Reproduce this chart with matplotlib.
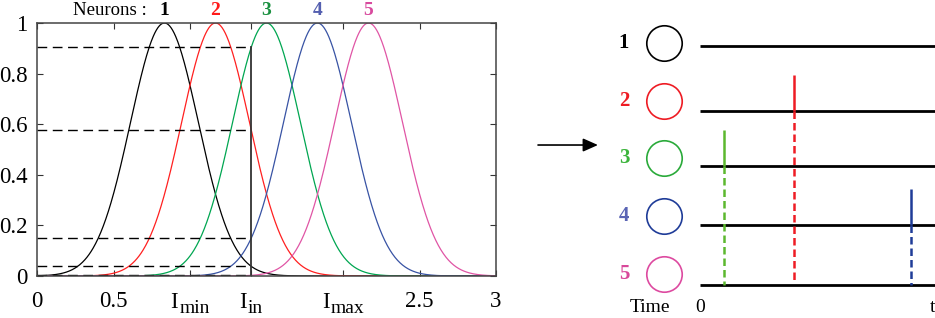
import matplotlib
matplotlib.use('Agg')
import matplotlib.pyplot as plt
import numpy as np
from matplotlib.transforms import blended_transform_factory

plt.rcParams['font.family'] = ['Liberation Serif', 'DejaVu Serif']

# ---------------- data ----------------
neuron_ids = ['1', '2', '3', '4', '5']
centers = [0.833, 1.167, 1.5, 1.833, 2.167]      # receptive field centres
sigma = 0.222                                     # receptive field width
I_in = 1.4                                        # input value
levels = [0.039, 0.576, 0.905, 0.149, 0.003]      # activation of each neuron at I_in
xticks = [0, 0.5, 1.0, 1.4, 2.0, 2.5, 3.0]
xticklabels = ['0', '0.5', '', '', '', '2.5', '3']
sub_ticks = [(1.0, 'I', 'min'), (1.4, 'I', 'in'), (2.0, 'I', 'max')]
yticks = [0, 0.2, 0.4, 0.6, 0.8, 1.0]
yticklabels = ['0', '0.2', '0.4', '0.6', '0.8', '1']
spike_neuron = [3, 2, 4]
spike_time = [0.103, 0.402, 0.902]

curve_colors = ['#000000', '#ff2020', '#00a651', '#3853a4', '#e055a5']
label_colors = ['#000000', '#ff1a1a', '#1a9040', '#5560b0', '#d84a9e']
right_label_colors = ['#000000', '#ee1c24', '#3cb43c', '#5a64b4', '#d8489a']
circle_colors = ['#000000', '#ee1c24', '#2aaa3a', '#1f3c98', '#dd4aa0']
spike_colors = {3: '#5cb82e', 2: '#ee1c24', 4: '#1f3c98'}

W, H = 935, 318
fig = plt.figure(figsize=(W / 100, H / 100), dpi=100)

# ---------------- left panel ----------------
ax = fig.add_axes([37 / W, 42 / H, 459 / W, 253 / H])
x = np.linspace(0, 3, 901)
for c, col in zip(centers, curve_colors):
    ax.plot(x, np.exp(-(x - c) ** 2 / (2 * sigma ** 2)), color=col, lw=0.9)

for v in levels:
    ax.plot([0, I_in], [v, v], color='k', lw=1.0, dashes=(7, 4))
ax.plot([I_in, I_in], [0, max(levels)], color='#333333', lw=1.3)

ax.set_xlim(0, 3)
ax.set_ylim(0, 1)
ax.set_xticks(xticks)
ax.set_xticklabels(xticklabels)
ax.set_yticks(yticks)
ax.set_yticklabels(yticklabels)
ax.tick_params(axis='both', direction='in', length=4.5, width=0.8, color='#333333',
               top=True, right=True, labelsize=16.5)
ax.tick_params(axis='x', pad=11)
ax.tick_params(axis='y', pad=7)
for s in ax.spines.values():
    s.set_color('#444444')
    s.set_linewidth(1.1)

trans = blended_transform_factory(ax.transData, ax.transAxes)
ax.text(0.72, 1.05, 'Neurons :', transform=trans, ha='right', va='center',
        fontsize=13.5)
for c, lab, col in zip(centers, neuron_ids, label_colors):
    ax.text(c, 1.05, lab, transform=trans, ha='center', va='center',
            fontsize=14, fontweight='bold', color=col)

# subscripted tick labels
renderer = fig.canvas.get_renderer()
main_dy, sub_dy = -16, -24
for xv, main, sub in sub_ticks:
    t1 = ax.annotate(main, xy=(xv, 0), xycoords=trans, xytext=(0, main_dy),
                     textcoords='offset pixels', ha='left', va='top', fontsize=16.5)
    t2 = ax.annotate(sub, xy=(xv, 0), xycoords=trans, xytext=(0, sub_dy),
                     textcoords='offset pixels', ha='left', va='top', fontsize=14)
    w1 = t1.get_window_extent(renderer).width
    w2 = t2.get_window_extent(renderer).width
    total = w1 + 1 + w2
    t1.set_position((-total / 2, main_dy))
    t2.set_position((-total / 2 + w1 + 1, sub_dy))

# ---------------- right panel ----------------
ax2 = fig.add_axes([520 / W, 0, 415 / W, 1])
ax2.set_xlim(-0.769, 1.004)
ax2.set_ylim(4.552, -0.770)
ax2.axis('off')

row_pos = [0, 1.09, 2.0, 2.99, 4.0]
circle_pos = [-0.05, 0.92, 1.875, 2.845, 3.816]
ax2.hlines(row_pos, 0, 1.004, color='k', lw=2.0)
for i in range(5):
    ax2.plot([-0.154], [circle_pos[i]], 'o', ms=25.5, mfc='none',
             mec=circle_colors[i], mew=1.2, clip_on=False)
    ax2.text(-0.325, circle_pos[i], neuron_ids[i], ha='center', va='center',
             fontsize=15, fontweight='bold', color=right_label_colors[i])

for n, t in zip(spike_neuron, spike_time):
    r = row_pos[n - 1]
    col = spike_colors[n]
    ax2.plot([t, t], [r, r - 0.6], color=col, lw=1.8, solid_capstyle='butt')
    end = 3.92 if n == 2 else row_pos[-1]
    ax2.plot([t, t], [r, end], color=col, lw=1.8, dashes=(3.0, 1.6))

ax2.annotate('', xy=(-0.436, 1.657), xytext=(-0.692, 1.657),
             arrowprops=dict(arrowstyle='-|>,head_length=0.9,head_width=0.4',
                             color='k', lw=1.2, shrinkA=0, shrinkB=0))

ax2.text(-0.214, 4.37, 'Time', ha='center', va='center', fontsize=14)
ax2.text(0.0, 4.37, '0', ha='center', va='center', fontsize=14)
ax2.text(1.004, 4.37, 't', ha='right', va='center', fontsize=14)

fig.savefig('out.png', dpi=100)
